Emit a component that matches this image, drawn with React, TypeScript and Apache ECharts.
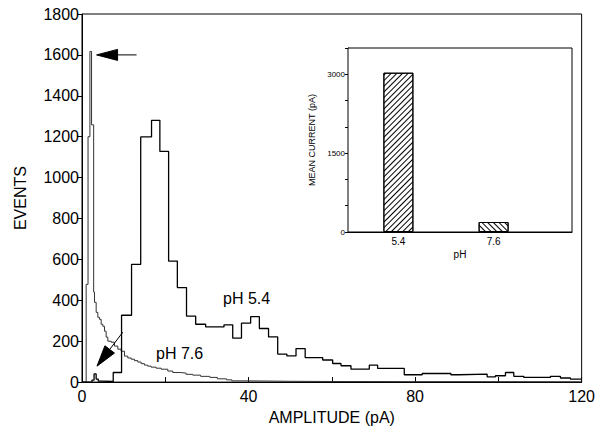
import React, { useEffect, useRef } from "react";
import * as echarts from "echarts";

// pH 5.4 histogram: bin left edges (pA) and counts (last point closes the final bin)
const ph54Edges = [0, 2.4, 2.9, 3.4, 3.9, 5.0, 7.5, 9.5, 11.9, 14.1, 16.7, 18.7, 20.8, 22.9, 25.1, 27.3, 29.7, 34.1, 36.2, 38.3, 40.5, 42.6, 44.8, 47.0, 49.2, 51.4, 53.6, 57.8, 60.2, 62.2, 64.6, 69.0, 71.0, 77.4, 81.7, 88.6, 90.5, 97.3, 99.3, 101.7, 103.7, 106.1, 112.5, 114.9, 117.3, 120];
const ph54Counts = [0, 10, 40, 15, 5, 3, 47, 327, 576, 1199, 1280, 1128, 592, 462, 323, 283, 270, 280, 215, 288, 320, 262, 221, 137, 128, 164, 120, 108, 91, 80, 63, 83, 67, 36, 42, 36, 39, 26, 31, 47, 28, 23, 28, 20, 15, 15];

// pH 7.6 histogram (fine bins)
const ph76Edges = [0, 1.0, 1.45, 1.9, 2.3, 2.8, 3.0, 3.4, 3.8, 4.2, 4.6, 5.0, 5.4, 5.8, 6.2, 7.0, 7.8, 8.6, 9.4, 10.2, 11.0, 11.8, 12.6, 13.4, 14.2, 15.0, 15.8, 16.6, 17.8, 19.0, 20.6, 21.8, 23.5, 25.0, 26.6, 28.5, 30.7, 32.5, 34.7, 36.0, 40.0, 50.0, 60.0, 80.0, 100.0, 120];
const ph76Counts = [0, 478, 1200, 1617, 1258, 440, 390, 341, 317, 307, 283, 273, 249, 220, 200, 195, 176, 161, 151, 127, 118, 112, 105, 98, 90, 83, 78, 73, 68, 63, 54, 47, 44, 38, 34, 28, 23, 16, 11, 6, 4, 3, 2, 2, 1, 1];

// Inset: mean current per pH
const insetCategories = ["5.4", "7.6"];
const insetPositions = [22.5, 65];
const insetValues = [3030, 190];

// Tick label values
const mainXLabelValues = [0, 40, 80, 120];
const insetYLabelValues = [0, 1500, 3000];

// Arrows (data coordinates): [tail, tip]
const arrowTop = [[13.1, 1600], [3.5, 1600]];
const arrowLow = [[9.8, 244], [3.6, 78]];

const FONT = "'Liberation Sans', Arial, Helvetica, sans-serif";

export default function App() {
  const ref = useRef<HTMLDivElement>(null);
  useEffect(() => {
    if (!ref.current) return;
    const chart = echarts.init(ref.current, null, { renderer: "svg" });
    const ph54 = ph54Edges.map((x, i) => [x, ph54Counts[i]]);
    const ph76 = ph76Edges.map((x, i) => [x, ph76Counts[i]]);
    const inset = insetPositions.map((x, i) => [x, insetValues[i]]);
    const option: any = {
      animation: false,
      backgroundColor: "#fff",
      textStyle: { fontFamily: FONT, color: "#000" },
      grid: [
        { left: 82, right: 16, top: 14, bottom: 47, show: true, borderColor: "#000", borderWidth: 1, containLabel: false },
        { left: 348, right: 26, top: 48, bottom: 198, show: true, borderColor: "#000", borderWidth: 1, backgroundColor: "#fff", z: 5 },
      ],
      xAxis: [
        {
          type: "value", gridIndex: 0, min: 0, max: 120, interval: 20,
          name: "AMPLITUDE (pA)", nameLocation: "middle", nameGap: 22,
          nameTextStyle: { fontSize: 16, color: "#000", fontFamily: FONT },
          axisLine: { lineStyle: { color: "#000", width: 1 } },
          axisTick: { inside: true, length: 5, lineStyle: { color: "#000" } },
          splitLine: { show: false },
          axisLabel: {
            fontSize: 16, color: "#000", margin: 6, fontFamily: FONT,
            formatter: (v: number) => (mainXLabelValues.indexOf(v) >= 0 ? String(v) : ""),
          },
        },
        {
          type: "value", gridIndex: 1, min: 0, max: 100,
          name: "pH", nameLocation: "middle", nameGap: 17,
          nameTextStyle: { fontSize: 10, color: "#000", fontFamily: FONT },
          axisLine: { lineStyle: { color: "#000", width: 1 } },
          axisTick: { inside: true, length: 4, customValues: [50], lineStyle: { color: "#000" } },
          splitLine: { show: false },
          axisLabel: {
            fontSize: 10, color: "#000", margin: 4, fontFamily: FONT,
            customValues: insetPositions,
            formatter: (v: number) => {
              const i = insetPositions.indexOf(v);
              return i >= 0 ? insetCategories[i] : "";
            },
          },
        },
      ],
      yAxis: [
        {
          type: "value", gridIndex: 0, min: 0, max: 1800, interval: 200,
          name: "EVENTS", nameLocation: "middle", nameGap: 54,
          nameTextStyle: { fontSize: 16, color: "#000", fontFamily: FONT },
          axisLine: { show: true, lineStyle: { color: "#000", width: 1 } },
          axisTick: { show: true, inside: false, length: 5, lineStyle: { color: "#000" } },
          splitLine: { show: false },
          axisLabel: { fontSize: 16, color: "#000", margin: 3, fontFamily: FONT, formatter: (v: number) => String(v) },
        },
        {
          type: "value", gridIndex: 1, min: 0, max: 3500, interval: 500,
          name: "MEAN CURRENT (pA)", nameLocation: "middle", nameGap: 32,
          nameTextStyle: { fontSize: 9, color: "#000", fontFamily: FONT },
          axisLine: { show: true, lineStyle: { color: "#000", width: 1 } },
          axisTick: { show: true, inside: false, length: 3, lineStyle: { color: "#000" } },
          splitLine: { show: false },
          axisLabel: {
            fontSize: 8, color: "#000", margin: 3, fontFamily: FONT,
            formatter: (v: number) => (insetYLabelValues.indexOf(v) >= 0 ? String(v) : ""),
          },
        },
      ],
      series: [
        {
          name: "pH 7.6", type: "line", xAxisIndex: 0, yAxisIndex: 0, step: "end",
          data: ph76, symbol: "none", lineStyle: { color: "#333", width: 1 }, z: 2,
        },
        {
          name: "pH 5.4", type: "line", xAxisIndex: 0, yAxisIndex: 0, step: "end",
          data: ph54, symbol: "none", lineStyle: { color: "#000", width: 1.3 }, z: 3,
        },
        {
          name: "Mean current", type: "bar", xAxisIndex: 1, yAxisIndex: 1, barWidth: 30, z: 6,
          data: inset.map((d, i) => ({
            value: d,
            itemStyle: {
              color: "#fff", borderColor: "#000", borderWidth: 1,
              decal: {
                symbol: "rect", symbolSize: 1, color: "#000", backgroundColor: "#fff",
                dashArrayX: [1, 0], dashArrayY: [1, 2.2],
                rotation: i === 0 ? -Math.PI / 4 : Math.PI / 4,
              },
            },
          })),
        },
      ],
    };
    chart.setOption(option);

    const arrow = (pair: number[][], headLen: number, hw: number) => {
      const s = chart.convertToPixel({ gridIndex: 0 }, pair[0]) as number[];
      const t = chart.convertToPixel({ gridIndex: 0 }, pair[1]) as number[];
      const dx = t[0] - s[0], dy = t[1] - s[1];
      const L = Math.sqrt(dx * dx + dy * dy);
      const ux = dx / L, uy = dy / L;
      const bx = t[0] - ux * headLen, by = t[1] - uy * headLen;
      const nx = -uy, ny = ux;
      return [
        { type: "line", shape: { x1: s[0], y1: s[1], x2: bx, y2: by }, style: { stroke: "#000", lineWidth: 1 }, z: 10 },
        {
          type: "polygon",
          shape: { points: [[t[0], t[1]], [bx + nx * hw, by + ny * hw], [bx - nx * hw, by - ny * hw]] },
          style: { fill: "#000", stroke: "#000" }, z: 10,
        },
      ];
    };

    chart.setOption({
      graphic: [
        ...arrow(arrowTop, 21, 5.5),
        ...arrow(arrowLow, 21, 6),
        { type: "text", left: 223, top: 290, style: { text: "pH 5.4", font: `16px ${FONT}`, fill: "#000" }, z: 10 },
        { type: "text", left: 156, top: 345, style: { text: "pH 7.6", font: `16px ${FONT}`, fill: "#000" }, z: 10 },
      ],
    });

    return () => chart.dispose();
  }, []);
  return <div ref={ref} style={{ position: "fixed", left: 0, top: 0, width: 598, height: 430 }} />;
}
